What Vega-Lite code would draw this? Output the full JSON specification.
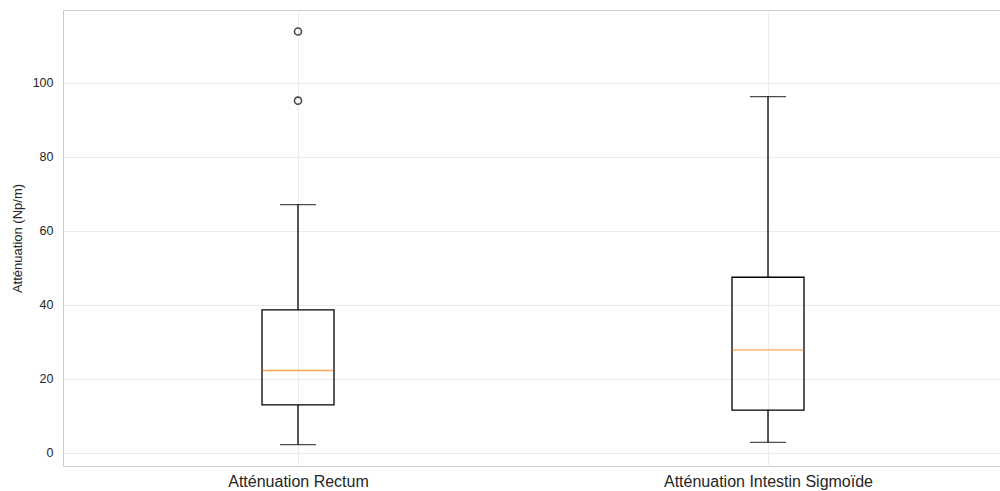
{
  "$schema": "https://vega.github.io/schema/vega-lite/v6.json",
  "width": 940,
  "height": 456,
  "autosize": "none",
  "padding": {"left": 63, "top": 10, "right": 0, "bottom": 25},
  "background": "white",
  "config": {
    "font": "Liberation Sans",
    "view": {"stroke": "#cccccc", "strokeWidth": 1},
    "axis": {"domain": false, "ticks": false, "gridColor": "#ebebeb", "gridWidth": 1, "labelColor": "#262626", "titleColor": "#262626", "titleFontWeight": "normal", "labelLimit": 500}
  },
  "datasets": {
    "stats": [
      {"cat": "Atténuation Rectum", "lower": 2.2, "q1": 12.9, "median": 22.2, "q3": 38.6, "upper": 67.0},
      {"cat": "Atténuation Intestin Sigmoïde", "lower": 2.8, "q1": 11.5, "median": 27.8, "q3": 47.4, "upper": 96.2}
    ],
    "outliers": [
      {"cat": "Atténuation Rectum", "value": 95.1},
      {"cat": "Atténuation Rectum", "value": 113.8}
    ]
  },
  "layer": [
    {
      "data": {"name": "stats"},
      "mark": {"type": "rule", "color": "black", "strokeWidth": 1.3},
      "encoding": {
        "x": {"field": "cat", "type": "nominal", "scale": {"type": "point", "padding": 0.5, "domain": ["Atténuation Rectum", "Atténuation Intestin Sigmoïde"]}, "axis": {"title": null, "labelAngle": 0, "labelFontSize": 16, "labelPadding": 7, "grid": true, "labelLimit": 500}},
        "y": {"field": "lower", "type": "quantitative", "scale": {"domain": [-3.6, 119.6], "nice": false, "zero": false}, "axis": {"title": "Atténuation (Np/m)", "values": [0, 20, 40, 60, 80, 100], "labelFontSize": 12.5, "labelPadding": 10, "titleFontSize": 13, "titlePadding": 8}},
        "y2": {"field": "q1"}
      }
    },
    {
      "data": {"name": "stats"},
      "mark": {"type": "rule", "color": "black", "strokeWidth": 1.3},
      "encoding": {
        "x": {"field": "cat", "type": "nominal"},
        "y": {"field": "q3", "type": "quantitative"},
        "y2": {"field": "upper"}
      }
    },
    {
      "data": {"name": "stats"},
      "mark": {"type": "bar", "size": 72, "fill": null, "fillOpacity": 0, "stroke": "black", "strokeWidth": 1.3},
      "encoding": {
        "x": {"field": "cat", "type": "nominal"},
        "y": {"field": "q1", "type": "quantitative"},
        "y2": {"field": "q3"}
      }
    },
    {
      "data": {"name": "stats"},
      "mark": {"type": "tick", "orient": "horizontal", "size": 36, "thickness": 1.3, "color": "black"},
      "encoding": {
        "x": {"field": "cat", "type": "nominal"},
        "y": {"field": "lower", "type": "quantitative"}
      }
    },
    {
      "data": {"name": "stats"},
      "mark": {"type": "tick", "orient": "horizontal", "size": 36, "thickness": 1.3, "color": "black"},
      "encoding": {
        "x": {"field": "cat", "type": "nominal"},
        "y": {"field": "upper", "type": "quantitative"}
      }
    },
    {
      "data": {"name": "stats"},
      "mark": {"type": "tick", "orient": "horizontal", "size": 71, "thickness": 1.3, "color": "#ff7f0e"},
      "encoding": {
        "x": {"field": "cat", "type": "nominal"},
        "y": {"field": "median", "type": "quantitative"}
      }
    },
    {
      "data": {"name": "outliers"},
      "mark": {"type": "point", "shape": "circle", "filled": false, "size": 50, "stroke": "black", "strokeWidth": 1.6},
      "encoding": {
        "x": {"field": "cat", "type": "nominal"},
        "y": {"field": "value", "type": "quantitative"}
      }
    }
  ]
}
